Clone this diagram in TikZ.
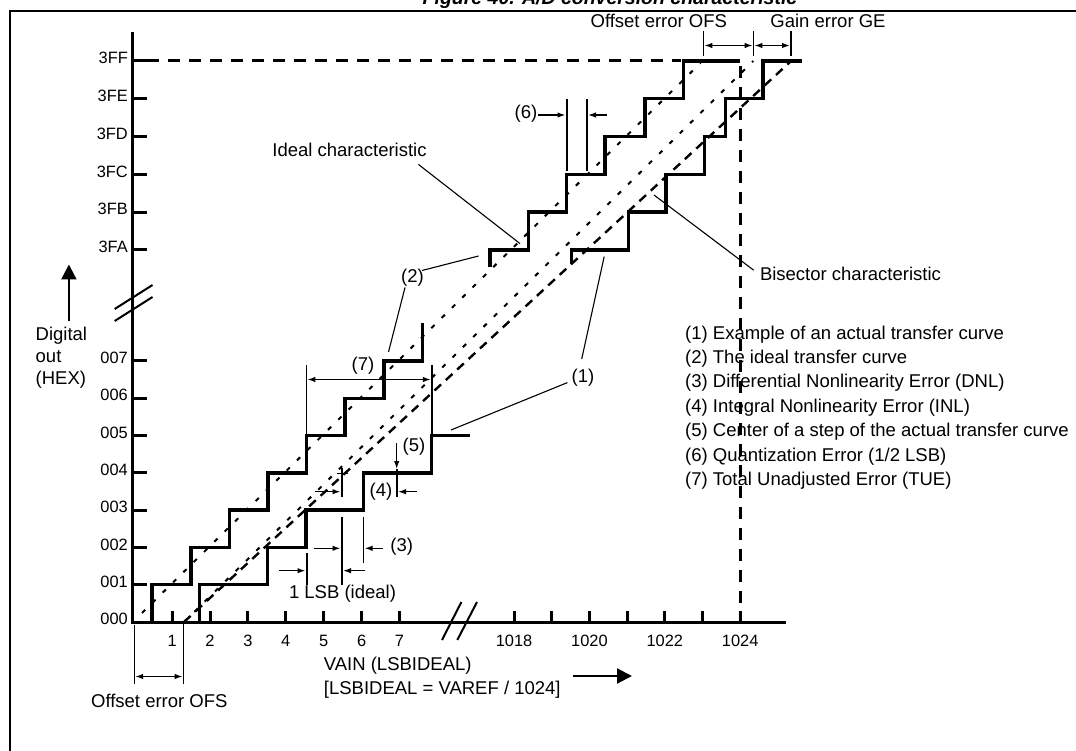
\documentclass[tikz,border=0pt]{standalone}
\usepackage{fontspec}
\setmainfont{Liberation Sans}
\usetikzlibrary{arrows.meta}
\begin{document}
\begin{tikzpicture}[x=1pt,y=-1pt,
  stairline/.style={line width=3.4pt,line join=miter},
  axisline/.style={line width=3pt,line join=miter},
  tickline/.style={line width=3pt},
  breakline/.style={line width=2pt},
  leader/.style={line width=1.1pt},
  barline/.style={line width=1.6pt},
  arr/.style={line width=1.4pt,-{Latex[length=8pt,width=5.5pt]}},
  darr/.style={line width=1.4pt,{Latex[length=8pt,width=5.5pt]}-{Latex[length=8pt,width=5.5pt]}},
  bigarr/.style={line width=2.2pt,-{Triangle[length=15pt,width=15pt]}},
  bigdash/.style={line width=3pt,dash pattern=on 12pt off 9pt},
  idealdash/.style={line width=2pt,dash pattern=on 4.5pt off 10pt},
  bisdash/.style={line width=2.4pt,dash pattern=on 9pt off 6.5pt},
  lbl/.style={font=\fontsize{18.5}{22}\selectfont,inner sep=0pt},
  tlbl/.style={font=\fontsize{16.4}{19}\selectfont,inner sep=0pt},
  titletext/.style={font=\bfseries\itshape\fontsize{19.5}{23}\selectfont,inner sep=0pt,anchor=base}
]
\useasboundingbox (0,0) rectangle (1076,751);
\clip (0,0) rectangle (1076,751);

% frame and title
\draw[line width=2pt] (10.3,760) -- (10.3,11) -- (1090,11);
\node[titletext] (title) at (610,4.5) {Figure 40. A/D conversion characteristic};

% axes
\draw[axisline] (132.6,31.7) -- (132.6,622) -- (786,622);
\draw[breakline] (114.7,309) -- (152.5,285) (114.7,321) -- (152.5,297);
\draw[breakline] (442,640) -- (461.4,602) (457.3,640) -- (477,602);

% y ticks and labels
\node[tlbl,anchor=east] (ylo0) at (128,619) {000};
\foreach \k in {1,...,7}{
  \draw[tickline] (132.6,{622-37.3*\k}) -- (147,{622-37.3*\k});
  \node[tlbl,anchor=east] (ylo\k) at (128,{619-37.3*\k}) {00\k};
}
\foreach \j/\t in {0/3FF,1/3FE,2/3FD,3/3FC,4/3FB,5/3FA}{
  \draw[tickline] (132.6,{61+37.8*\j}) -- (147,{61+37.8*\j});
  \node[tlbl,anchor=east] (yhi\j) at (128,{58+37.8*\j}) {\t};
}

% x ticks and labels
\foreach \n in {1,...,7}{
  \draw[tickline] ({134.2+37.9*\n},622) -- ({134.2+37.9*\n},611);
  \node[tlbl] (xlo\n) at ({134.2+37.9*\n},641) {\n};
}
\foreach \i in {0,...,6}{
  \draw[tickline] ({514+37.7*\i},622) -- ({514+37.7*\i},611);
}
\node[tlbl] (xhi18) at (514,641) {1018};
\node[tlbl] (xhi20) at (589.4,641) {1020};
\node[tlbl] (xhi22) at (664.8,641) {1022};
\node[tlbl] (xhi24) at (740.2,641) {1024};

% dashed full-scale lines
\draw[bigdash] (147,61) -- (681,61);
\draw[bigdash] (740.3,66) -- (740.3,622);

% characteristic lines
\draw[idealdash] (142,613) -- (700.5,63);
\draw[idealdash] (184,622) -- (753.3,61);
\draw[bisdash] (184,622) -- (790,62);

% ideal transfer curve (2)
\draw[stairline] (152,622) -- (152,584.7) -- (191,584.7) -- (191,547.4) -- (229.5,547.4) -- (229.5,510.1)
  -- (268,510.1) -- (268,472.8) -- (306.5,472.8) -- (306.5,435.5) -- (345,435.5) -- (345,398.2)
  -- (384,398.2) -- (384,360.9) -- (422.5,360.9) -- (422.5,322.7);
\draw[stairline] (490,267.5) -- (490,250) -- (528.5,250) -- (528.5,212.2) -- (566.7,212.2) -- (566.7,174.4)
  -- (605,174.4) -- (605,136.6) -- (645,136.6) -- (645,98.8) -- (683.3,98.8) -- (683.3,61) -- (740.3,61);

% actual transfer curve (1)
\draw[stairline] (199.7,622) -- (199.7,584.7) -- (267.3,584.7) -- (267.3,547.4) -- (306,547.4) -- (306,510.1)
  -- (363.3,510.1) -- (363.3,472.8) -- (431.7,472.8) -- (431.7,435.5) -- (470,435.5);
\draw[stairline] (571.5,264.5) -- (571.5,250) -- (628.3,250) -- (628.3,212.2) -- (666,212.2) -- (666,174.4)
  -- (704.5,174.4) -- (704.5,136.6) -- (725.5,136.6) -- (725.5,98.8) -- (763,98.8) -- (763,61) -- (802,61);

% offset / gain error (top)
\node[lbl] (ofstop) at (658.8,21.2) {Offset error OFS};
\node[lbl] (getop) at (828,21.2) {Gain error GE};
\coordinate (b1t) at (703.5,31.5); \coordinate (b1b) at (703.5,56.4);
\coordinate (b2t) at (753.5,31.5); \coordinate (b2b) at (753.5,56.4);
\coordinate (b3t) at (790.8,31.5); \coordinate (b3b) at (790.8,56.4);
\draw[barline] (b1t) -- (b1b); \draw[barline] (b2t) -- (b2b); \draw[barline] (b3t) -- (b3b);
\coordinate (ga1) at (703.5,45.5); \coordinate (ga2) at (753.5,45.5); \coordinate (ga3) at (790.8,45.5);
\draw[darr,shorten <=0.8pt,shorten >=0.8pt] (ga1) -- (ga2);
\draw[darr,shorten <=0.8pt,shorten >=0.8pt] (ga2) -- (ga3);

% (6) quantization error
\node[lbl] (l6) at (526,114) {(6)};
\coordinate (q1t) at (566.7,99); \coordinate (q1b) at (566.7,171);
\coordinate (q2t) at (586.7,99); \coordinate (q2b) at (586.7,171);
\draw[barline] (q1t) -- (q1b); \draw[barline] (q2t) -- (q2b);
\coordinate (q1a) at (538,115); \coordinate (q1e) at (565.5,115);
\coordinate (q2a) at (607,115); \coordinate (q2e) at (588,115);
\draw[arr] (q1a) -- (q1e); \draw[arr] (q2a) -- (q2e);

% ideal characteristic label
\node[lbl] (lideal) at (349.5,150) {Ideal characteristic};
\coordinate (li1) at (418.4,164.4); \coordinate (li2) at (520,243.6);
\draw[leader] (li1) -- (li2);

% bisector label
\node[lbl,anchor=west] (lbis) at (759.8,273.6) {Bisector characteristic};
\coordinate (lb1) at (753.7,270.2); \coordinate (lb2) at (654,195);
\draw[leader] (lb1) -- (lb2);

% (2) label
\node[lbl] (l2) at (412.5,278) {(2)};
\coordinate (l2a) at (422,270.5); \coordinate (l2b) at (478.5,256);
\coordinate (l2c) at (405,287.5); \coordinate (l2d) at (388.5,352);
\draw[leader] (l2a) -- (l2b); \draw[leader] (l2c) -- (l2d);

% (1) label
\node[lbl] (l1) at (583,378) {(1)};
\coordinate (l1a) at (581.7,359); \coordinate (l1b) at (604.2,256.5);
\coordinate (l1c) at (567.4,382.6); \coordinate (l1d) at (451,430);
\draw[leader] (l1a) -- (l1b); \draw[leader] (l1c) -- (l1d);

% (7) total unadjusted error
\coordinate (t1t) at (306.5,364.8); \coordinate (t1b) at (306.5,435.5);
\coordinate (t2t) at (431.7,364.8); \coordinate (t2b) at (431.7,435.5);
\draw[barline] (t1t) -- (t1b); \draw[barline] (t2t) -- (t2b);
\coordinate (ta1) at (306.5,379.5); \coordinate (ta2) at (431.7,379.5);
\draw[darr,shorten <=0.8pt,shorten >=0.8pt] (ta1) -- (ta2);
\node[lbl] (l7) at (363,366) {(7)};

% (5) centre of a step
\node[lbl] (l5) at (414,447) {(5)};
\coordinate (c5a) at (396.7,443.3); \coordinate (c5b) at (396.7,469);
\draw[arr] (c5a) -- (c5b);

% (4) integral nonlinearity
\coordinate (i1t) at (341.7,468); \coordinate (i1b) at (341.7,497);
\coordinate (i2t) at (396.7,469); \coordinate (i2b) at (396.7,497);
\draw[barline] (i1t) -- (i1b); \draw[barline] (i2t) -- (i2b);
\coordinate (ix1) at (336.5,473.3); \coordinate (ix2) at (348.3,473.3);
\draw[barline] (ix1) -- (ix2);
\coordinate (ia1) at (315,491.7); \coordinate (ia2) at (340.5,491.7);
\coordinate (ib1) at (416.7,491.7); \coordinate (ib2) at (398,491.7);
\draw[arr] (ia1) -- (ia2); \draw[arr] (ib1) -- (ib2);
\node[lbl] (l4) at (381,491.7) {(4)};

% (3) differential nonlinearity
\coordinate (d1t) at (341.7,516.7); \coordinate (d1b) at (341.7,585);
\coordinate (d2t) at (363.3,516.7); \coordinate (d2b) at (363.3,563.3);
\draw[barline] (d1t) -- (d1b); \draw[barline] (d2t) -- (d2b);
\coordinate (da1) at (314,548.3); \coordinate (da2) at (340.5,548.3);
\coordinate (db1) at (383.3,548.3); \coordinate (db2) at (364.5,548.3);
\draw[arr] (da1) -- (da2); \draw[arr] (db1) -- (db2);
\node[lbl] (l3) at (401.7,547) {(3)};

% 1 LSB (ideal)
\coordinate (s1t) at (306.7,553.3); \coordinate (s1b) at (306.7,585);
\draw[barline] (s1t) -- (s1b);
\coordinate (sa1) at (279.3,570.7); \coordinate (sa2) at (305.5,570.7);
\coordinate (sb1) at (365,570.7); \coordinate (sb2) at (343,570.7);
\draw[arr] (sa1) -- (sa2); \draw[arr] (sb1) -- (sb2);
\node[lbl] (llsb) at (342.5,593.3) {1 LSB (ideal)};

% offset error (bottom)
\coordinate (o1t) at (134.3,625); \coordinate (o1b) at (134.3,683.5);
\coordinate (o2t) at (183.5,622); \coordinate (o2b) at (183.5,683.5);
\draw[barline] (o1t) -- (o1b); \draw[barline] (o2t) -- (o2b);
\coordinate (oa1) at (134.3,676.5); \coordinate (oa2) at (183.5,676.5);
\draw[darr,shorten <=0.8pt,shorten >=0.8pt] (oa1) -- (oa2);
\node[lbl] (ofsbot) at (159.3,700.5) {Offset error OFS};

% x-axis caption
\node[lbl,anchor=west] (vain) at (323.7,666) {VAIN (LSBIDEAL)};
\node[lbl,anchor=west] (lsbdef) at (323.7,690) {[LSBIDEAL = VAREF / 1024]};
\coordinate (va1) at (573.2,676); \coordinate (va2) at (632,676);
\draw[bigarr] (va1) -- (va2);

% y-axis caption
\coordinate (da) at (68.9,321); \coordinate (db) at (68.9,264.5);
\draw[bigarr] (da) -- (db);
\node[lbl,anchor=north west,align=left,font=\fontsize{18.5}{22.4}\selectfont] (digout) at (35.5,326.5) {Digital\\out\\(HEX)};

% legend
\node[lbl,anchor=base west] (leg1) at (685,339) {(1) Example of an actual transfer curve};
\node[lbl,anchor=base west] (leg2) at (685,363.4) {(2) The ideal transfer curve};
\node[lbl,anchor=base west] (leg3) at (685,387.8) {(3) Differential Nonlinearity Error (DNL)};
\node[lbl,anchor=base west] (leg4) at (685,412.2) {(4) Integral Nonlinearity Error (INL)};
\node[lbl,anchor=base west] (leg5) at (685,436.6) {(5) Center of a step of the actual transfer curve};
\node[lbl,anchor=base west] (leg6) at (685,461) {(6) Quantization Error (1/2 LSB)};
\node[lbl,anchor=base west] (leg7) at (685,485.4) {(7) Total Unadjusted Error (TUE)};
\end{tikzpicture}
\end{document}
